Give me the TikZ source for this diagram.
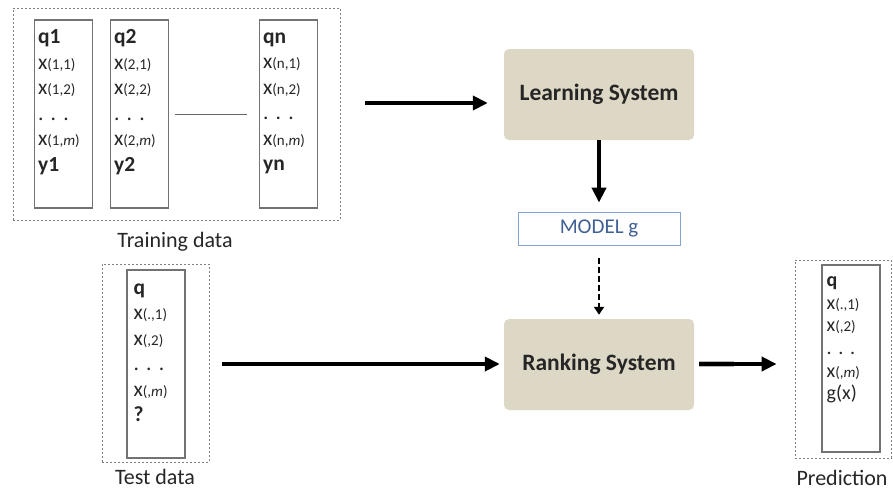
\documentclass[tikz,border=0pt]{standalone}
\usepackage{fontspec}
\setmainfont{Carlito}
\usetikzlibrary{arrows.meta, positioning, calc}
\definecolor{sysfill}{HTML}{DDD8C5}
\definecolor{modelblue}{HTML}{4F7FBE}
\definecolor{modeltext}{HTML}{3F5F95}
\newcommand{\feat}[1]{x{\fontsize{15}{15}\selectfont(#1)}}

\begin{document}
\begin{tikzpicture}[x=1pt, y=-1pt,
    sysbox/.style={rectangle, rounded corners=5pt, fill=sysfill, minimum width=190pt, minimum height=91pt, font=\fontsize{23.5}{23.5}\selectfont\bfseries, text=black!85},
    modelbox/.style={rectangle, draw=modelblue!70, thick, minimum width=162pt, minimum height=33pt, font=\fontsize{21}{21}\selectfont, text=modeltext},
    dotbox/.style={rectangle, draw=gray, dash pattern=on 2pt off 2pt, line width=0.8pt},
    col/.style={rectangle, draw=gray!90!black, line width=1.2pt, minimum width=58pt, minimum height=188pt},
    coltext/.style={align=left, inner sep=0pt, font=\fontsize{21.5}{25.5}\selectfont, text=black!85},
    caption/.style={font=\fontsize{22}{22}\selectfont, text=black!85},
    arrow/.style={line width=3.8pt, -{Triangle[length=15pt, width=14pt]}},
    dasharrow/.style={line width=2.5pt, dashed, dash pattern=on 6pt off 3pt, -{Triangle[length=8pt, width=10pt]}}]
    \useasboundingbox (0,0) rectangle (893,493);
    % Training data
    \node[dotbox, minimum width=327pt, minimum height=212pt] (train) at (176.5,114) {};
    \node[col] (c1) at (63.5,114) {};
    \node[col] (c2) at (139.5,114) {};
    \node[col] (cn) at (288.5,114) {};
    \node[coltext, below right=10pt and 4pt of c1.north west] {\textbf{q1}\\ \feat{1,1}\\ \feat{1,2}\\ .\,\,.\,\,.\\ \feat{1,\textit{m}}\\ \textbf{y1}};
    \node[coltext, below right=10pt and 4pt of c2.north west] {\textbf{q2}\\ \feat{2,1}\\ \feat{2,2}\\ .\,\,.\,\,.\\ \feat{2,\textit{m}}\\ \textbf{y2}};
    \node[coltext, below right=10pt and 4pt of cn.north west] {\textbf{qn}\vphantom{1}\\ \feat{n,1}\\ \feat{n,2}\\ .\,\,.\,\,.\\ \feat{n,\textit{m}}\\ \textbf{yn}};
    \draw[gray!80!black, thin] ([xshift=6pt]c2.east) -- ([xshift=-12pt]cn.west);
    \node[caption] (traincap) at (175,242) {Training data};

    % Test data
    \node[dotbox, minimum width=107pt, minimum height=198pt] (test) at (155.5,363) {};
    \node[col] (ct) at (156,364) {};
    \node[coltext, below right=11pt and 7pt of ct.north west] {\textbf{q}\vphantom{1}\\ \feat{.,1}\\ \feat{,2}\\ .\,\,.\,\,.\\ \feat{,\textit{m}}\\ \textbf{?}};
    \node[caption] (testcap) at (155,477) {Test data};

    % Systems
    \node[sysbox] (learn) at (599,94.5) {Learning System};
    \node[modelbox] (model) at (599,228.5) {MODEL g};
    \node[sysbox] (rank) at (599,364.5) {Ranking System};

    % Prediction
    \node[dotbox, minimum width=96pt, minimum height=198pt] (pred) at (843,359) {};
    \node[col, minimum height=187pt] (cp) at (851,358.5) {};
    \node[coltext, below right=9pt and 5pt of cp.north west, font=\fontsize{20}{22.7}\selectfont] {\textbf{q}\vphantom{1}\\ \feat{.,1}\\ \feat{,2}\\ .\,\,.\,\,.\\ \feat{,\textit{m}}\\ g(x)};
    \node[caption] (predcap) at (842,478) {Prediction};

    % Arrows
    \coordinate (a1) at (365,103);
    \coordinate (a2) at (222,364);
    \draw[arrow, shorten >=16pt] (a1) -- (a1 -| learn.west);
    \draw[arrow, shorten >=4pt] (a2) -- (a2 -| rank.west);
    \draw[line width=6pt, gray!55, shorten <=5pt] (rank.east |- a2) -- ++(40,0);
    \draw[arrow, shorten <=5pt, shorten >=18pt] (rank.east |- a2) -- (a2 -| pred.west);
    \draw[arrow, shorten >=9pt] (learn) -- (model);
    \draw[dasharrow, shorten <=13pt, shorten >=4pt] (model) -- (rank);
\end{tikzpicture}
\end{document}
